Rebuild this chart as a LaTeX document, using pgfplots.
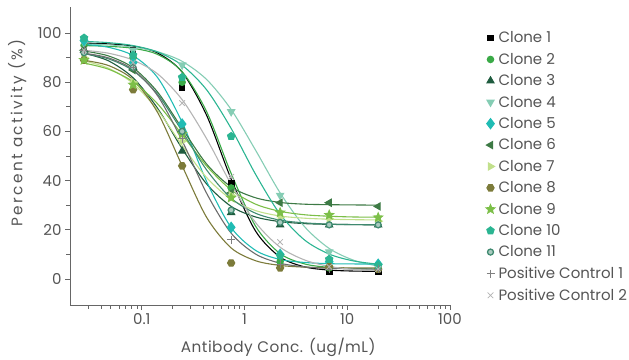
\documentclass[border=0pt]{standalone}
\usepackage{pgfplots}
\pgfplotsset{compat=1.18}
\usepackage{pgfplotstable}
\usepackage{fontspec}
\setmainfont{Poppins}
\usetikzlibrary{plotmarks}

\definecolor{cA}{HTML}{000000}
\definecolor{cB}{HTML}{3AAA47}
\definecolor{cC}{HTML}{1F5C3F}
\definecolor{cD}{HTML}{85CDB4}
\definecolor{cE}{HTML}{20BCB4}
\definecolor{cF}{HTML}{3D7A45}
\definecolor{cG}{HTML}{C2E08C}
\definecolor{cH}{HTML}{7C7B3A}
\definecolor{cI}{HTML}{7CBF48}
\definecolor{cJ}{HTML}{2BB592}
\definecolor{cK}{HTML}{3F8A70}
\definecolor{cP}{HTML}{808080}
\definecolor{cQ}{HTML}{B4B4B4}
\definecolor{txt}{HTML}{555555}
\definecolor{axl}{HTML}{666666}

\pgfdeclareplotmark{hexagon*}{%
  \pgfpathmoveto{\pgfpointpolar{0}{\pgfplotmarksize}}%
  \pgfpathlineto{\pgfpointpolar{60}{\pgfplotmarksize}}%
  \pgfpathlineto{\pgfpointpolar{120}{\pgfplotmarksize}}%
  \pgfpathlineto{\pgfpointpolar{180}{\pgfplotmarksize}}%
  \pgfpathlineto{\pgfpointpolar{240}{\pgfplotmarksize}}%
  \pgfpathlineto{\pgfpointpolar{300}{\pgfplotmarksize}}%
  \pgfpathclose\pgfusepathqfillstroke}
\pgfdeclareplotmark{fstar}{%
  \pgfpathmoveto{\pgfpointpolar{90}{\pgfplotmarksize}}%
  \pgfpathlineto{\pgfpointpolar{126}{0.45\pgfplotmarksize}}%
  \pgfpathlineto{\pgfpointpolar{162}{\pgfplotmarksize}}%
  \pgfpathlineto{\pgfpointpolar{198}{0.45\pgfplotmarksize}}%
  \pgfpathlineto{\pgfpointpolar{234}{\pgfplotmarksize}}%
  \pgfpathlineto{\pgfpointpolar{270}{0.45\pgfplotmarksize}}%
  \pgfpathlineto{\pgfpointpolar{306}{\pgfplotmarksize}}%
  \pgfpathlineto{\pgfpointpolar{342}{0.45\pgfplotmarksize}}%
  \pgfpathlineto{\pgfpointpolar{18}{\pgfplotmarksize}}%
  \pgfpathlineto{\pgfpointpolar{54}{0.45\pgfplotmarksize}}%
  \pgfpathclose\pgfusepathqfillstroke}

\pgfplotsset{dotleg/.style={only marks,
  legend image code/.code={\draw[##1, only marks] plot coordinates {(0pt,0pt)}; \path[draw=none, fill=none] (-5pt,0pt) rectangle (6pt,0.1pt);}}}

\pgfplotstableread{
x c1 c2 c3 c4 c5 c6 c7 c8 c9 c10 c11 p1 p2
0.0274 95 95 93 96 97 93 90 89 89 98 92 93 93
0.0823 93 90 86 93 88 85 80 77 79 91 86 86 88
0.247 78 80 52 87 63 60 56 46 59 82 60 57 71.5
0.741 39 37 27 68 21 35 34 6.5 33 58 28 16 41.5
2.22 5 7 22 34 10 31 25 4.5 27 9.5 23 6 15
6.67 3 4.5 22 11 7 31 24.5 5 26 8 22 4 5
20 3 4 22 5 6 29.5 23.5 4 25 5.5 22 4 4
}\pts

\pgfplotstableread{
x c1 c2 c3 c4 c5 c6 c7 c8 c9 c10 c11 p1 p2
0.0274 95.9 94.9 91.8 95.6 95.4 92.7 88.7 88.9 87.8 96.6 91.6 91.8 93.0
0.0474 95.6 94.6 88.7 95.2 94.2 90.7 85.7 86.8 85.3 96.1 89.5 89.9 91.8
0.0823 94.7 93.8 81.8 94.3 90.8 85.9 79.5 81.0 80.2 94.9 84.7 85.1 89.0
0.1425 91.9 91.3 69.4 92.4 81.9 76.0 68.7 67.7 71.2 92.3 75.1 74.5 83.4
0.247 84.1 84.3 53.0 88.5 63.7 61.2 54.3 46.0 58.7 86.9 60.1 56.2 72.9
0.428 66.5 68.0 38.6 81.1 39.6 46.7 41.2 25.0 45.9 76.9 44.3 34.8 57.0
0.741 40.6 42.9 29.5 68.9 20.9 37.4 32.4 12.6 36.2 61.2 32.8 18.6 38.5
1.283 19.4 21.4 25.2 52.3 11.6 33.0 27.8 7.4 30.4 42.5 26.7 10.1 22.9
2.22 8.9 10.3 23.3 35.0 7.9 31.1 25.6 5.5 27.5 26.3 23.9 6.4 12.9
3.85 4.9 6.1 22.5 21.2 6.7 30.4 24.7 4.8 26.1 15.8 22.8 4.9 7.7
6.67 3.6 4.7 22.2 12.4 6.2 30.2 24.3 4.6 25.5 10.1 22.3 4.3 5.1
11.55 3.2 4.2 22.1 7.6 6.1 30.1 24.1 4.5 25.2 7.3 22.1 4.1 3.9
20 3.1 4.1 22.0 5.2 6.0 30.0 24.0 4.5 25.1 6.0 22.0 4.0 3.4
}\fit

\begin{document}
\begin{tikzpicture}
\path[use as bounding box] (-70pt,-54pt) rectangle (559pt,305pt);
\begin{axis}[
  at={(0pt,0pt)}, anchor=south west,
  scale only axis, width=380pt, height=298pt,
  xmode=log, xmin=0.02, xmax=100, ymin=-10.6, ymax=110.6,
  axis lines*=left,
  axis line style={color=axl, line width=0.9pt},
  tick style={color=axl, line width=0.8pt},
  tick align=outside, major tick length=5pt, minor tick length=3.5pt,
  xtick={0.1,1,10,100}, xticklabels={0.1,1,10,100},
  minor xtick={0.03,0.04,0.05,0.06,0.07,0.08,0.09,0.2,0.3,0.4,0.5,0.6,0.7,0.8,0.9,2,3,4,5,6,7,8,9,20,30,40,50,60,70,80,90},
  ytick={0,20,40,60,80,100}, minor ytick={10,30,50,70,90},
  /pgf/number format/assume math mode=true,
  tick label style={font=\fontsize{15}{17}\selectfont, color=txt},
  label style={font=\fontsize{15.3}{18}\selectfont, color=txt},
  xlabel={\addfontfeature{LetterSpace=3}Antibody Conc. (ug/mL)},
  ylabel={\addfontfeature{LetterSpace=15}Percent activity (\%)},
  xlabel style={at={(axis description cs:0.548,-0.141)}, anchor=center},
  ylabel style={at={(axis description cs:-0.139,0.577)}, anchor=center},
  legend style={draw=none, fill=none, at={(1.085,0.931)}, anchor=north west,
    font=\fontsize{15}{18}\selectfont, text=txt, row sep=4.8pt},
  legend cell align=left,
  every axis plot/.append style={line width=1.1pt},
]
% fitted curves
\addplot[cA, smooth, forget plot] table[x=x,y=c1]{\fit};
\addplot[cB, smooth, forget plot] table[x=x,y=c2]{\fit};
\addplot[cC, smooth, forget plot] table[x=x,y=c3]{\fit};
\addplot[cD, smooth, forget plot] table[x=x,y=c4]{\fit};
\addplot[cE, smooth, forget plot] table[x=x,y=c5]{\fit};
\addplot[cF, smooth, forget plot] table[x=x,y=c6]{\fit};
\addplot[cG, smooth, forget plot] table[x=x,y=c7]{\fit};
\addplot[cH, smooth, forget plot] table[x=x,y=c8]{\fit};
\addplot[cI, smooth, forget plot] table[x=x,y=c9]{\fit};
\addplot[cJ, smooth, forget plot] table[x=x,y=c10]{\fit};
\addplot[cK, smooth, forget plot] table[x=x,y=c11]{\fit};
\addplot[cP!85!black, smooth, forget plot] table[x=x,y=p1]{\fit};
\addplot[cQ, smooth, forget plot] table[x=x,y=p2]{\fit};
% data points
\addplot[dotleg, mark=square*, mark size=2.8pt, color=cA] table[x=x,y=c1]{\pts};
\addlegendentry{Clone 1}
\addplot[dotleg, mark=*, mark size=3.2pt, color=cB] table[x=x,y=c2]{\pts};
\addlegendentry{Clone 2}
\addplot[dotleg, mark=triangle*, mark size=4pt, color=cC] table[x=x,y=c3]{\pts};
\addlegendentry{Clone 3}
\addplot[dotleg, mark=triangle*, mark size=4pt, mark options={rotate=180}, color=cD] table[x=x,y=c4]{\pts};
\addlegendentry{Clone 4}
\addplot[dotleg, mark=diamond*, mark size=5pt, color=cE] table[x=x,y=c5]{\pts};
\addlegendentry{Clone 5}
\addplot[dotleg, mark=triangle*, mark size=4pt, mark options={rotate=90}, color=cF] table[x=x,y=c6]{\pts};
\addlegendentry{Clone 6}
\addplot[dotleg, mark=triangle*, mark size=4pt, mark options={rotate=-90}, color=cG] table[x=x,y=c7]{\pts};
\addlegendentry{Clone 7}
\addplot[dotleg, mark=hexagon*, mark size=3.6pt, color=cH] table[x=x,y=c8]{\pts};
\addlegendentry{Clone 8}
\addplot[dotleg, mark=fstar, mark size=4.5pt, color=cI] table[x=x,y=c9]{\pts};
\addlegendentry{Clone 9}
\addplot[dotleg, mark=pentagon*, mark size=3.8pt, color=cJ] table[x=x,y=c10]{\pts};
\addlegendentry{Clone 10}
\addplot[dotleg, mark=*, mark size=3pt, mark options={fill=cK!45!white, draw=cK, line width=1.3pt}, color=cK] table[x=x,y=c11]{\pts};
\addlegendentry{Clone 11}
\addplot[dotleg, mark=+, mark size=4pt, mark options={line width=0.8pt}, color=cP] table[x=x,y=p1]{\pts};
\addlegendentry{Positive Control 1}
\addplot[dotleg, mark=x, mark size=4pt, mark options={line width=0.8pt}, color=cQ] table[x=x,y=p2]{\pts};
\addlegendentry{Positive Control 2}
\end{axis}
\end{tikzpicture}
\end{document}
